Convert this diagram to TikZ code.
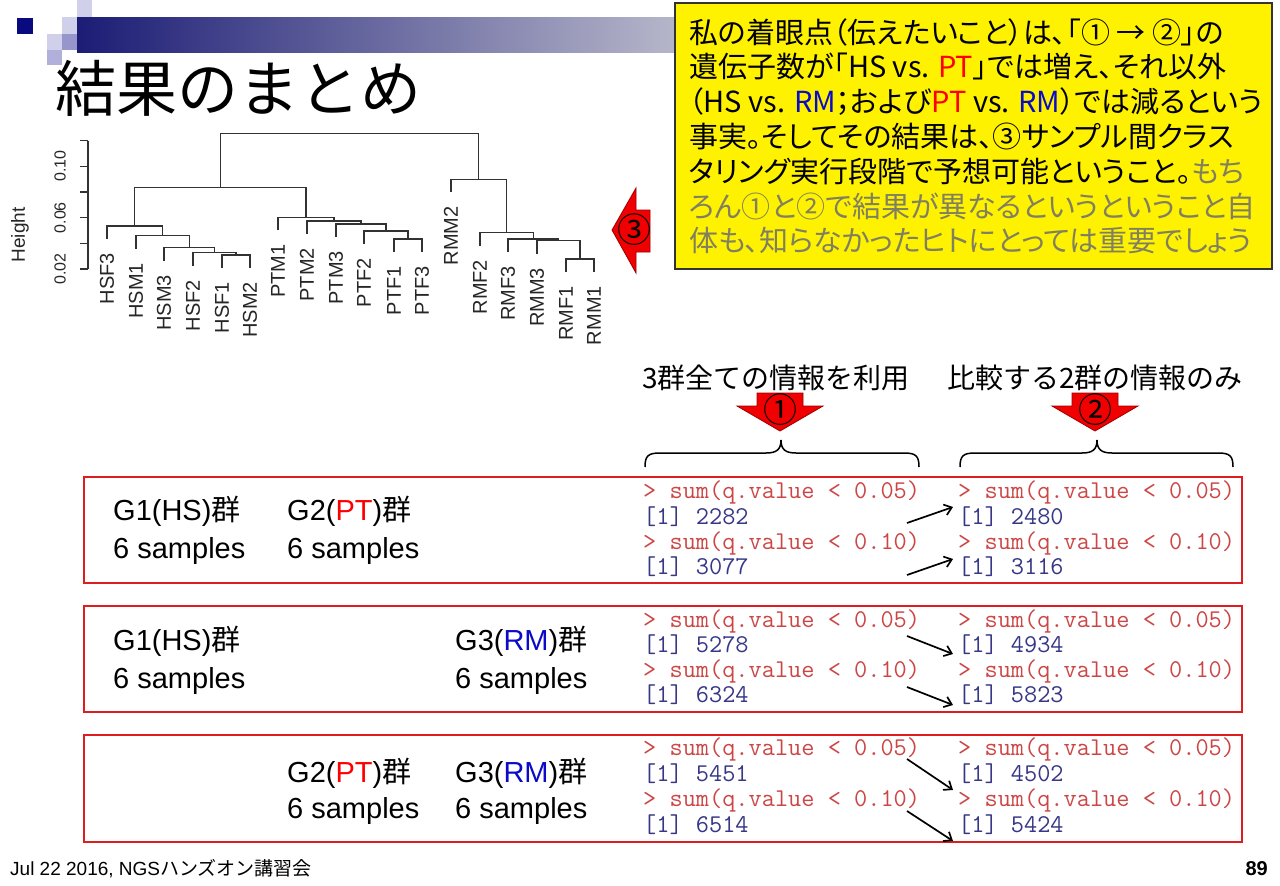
\documentclass[tikz,border=0pt]{standalone}
\usepackage{fontspec}
\setmainfont{Liberation Sans}
\newfontfamily\jp{Noto Sans CJK JP}
\newfontfamily\jpp[RawFeature=+palt]{Noto Sans CJK JP}
\usetikzlibrary{arrows.meta}
\definecolor{navy}{RGB}{10,10,128}
\definecolor{barL}{RGB}{28,28,118}
\definecolor{barR}{RGB}{182,182,202}
\definecolor{sqA}{RGB}{208,208,234}
\definecolor{sqB}{RGB}{176,176,218}
\definecolor{sqC}{RGB}{150,150,205}
\definecolor{dend}{RGB}{50,50,50}
\definecolor{arrowred}{RGB}{240,0,0}
\definecolor{boxred}{RGB}{222,30,30}
\definecolor{ptred}{RGB}{255,0,0}
\definecolor{rmblue}{RGB}{10,10,200}
\definecolor{gtxt}{RGB}{128,128,96}
\definecolor{prompt}{RGB}{205,70,70}
\definecolor{outnum}{RGB}{55,55,135}
\newcommand\fsz[1]{\fontsize{#1}{#1}\selectfont}
\tikzset{
  dendline/.style={draw=dend, line width=1.3pt},
  leaflab/.style={rotate=90, anchor=east, inner sep=0pt, text=black!85, font=\fsz{20}},
  ticklab/.style={rotate=90, anchor=center, inner sep=0pt, text=black!85, font=\fsz{16}},
  bigarrow/.style={fill=arrowred, draw=arrowred!65!black, line width=0.8pt},
  circnum/.style={inner sep=0pt, font=\jp\fsz{34}},
  bracepath/.style={draw=black, line width=1.5pt},
  groupbox/.style={draw=boxred, line width=2.5pt},
  grp/.style={anchor=base west, inner sep=0pt, font=\fsz{29}},
  code/.style={anchor=base west, inner sep=0pt, font=\ttfamily\fsz{25.6}},
  cmd/.style={code, text=prompt},
  res/.style={code, text=outnum},
  chg/.style={draw=black, line width=1.7pt, -{Straight Barb[length=7pt,width=11pt,line width=1.7pt]}},
  note/.style={anchor=base west, inner sep=0pt, font=\jpp\fsz{29}},
  head/.style={anchor=base, inner sep=0pt, font=\jp\fsz{28}},
}
\begin{document}
\begin{tikzpicture}[x=1pt,y=-1pt]
\useasboundingbox (0,0) rectangle (1280,886);
\fill[white] (0,0) rectangle (1280,886);

% title bar and its small squares
\shade[left color=barL, right color=barR] (77,17) rectangle (676,52);
\fill[sqA] (77,0) rectangle (92,17);
\fill[navy] (17,18) rectangle (33,34);
\fill[sqA] (62,17) rectangle (77,34);
\fill[sqA] (47,34) rectangle (62,50);
\fill[sqC] (62,34) rectangle (77,50);
\fill[sqB] (47,50) rectangle (62,65);

\node[anchor=base west, inner sep=0pt, font=\jp\fsz{61}] (title) at (55,111) {結果のまとめ};

% dendrogram: axis
\draw[dendline] (88,140.7) -- (88,269);
\foreach \t in {140.7,166.3,192,217.7,243.3,269} \draw[dendline] (88,\t) -- (80,\t);
\node[ticklab] (t02) at (60,269) {0.02};
\node[ticklab] (t06) at (60,217.7) {0.06};
\node[ticklab] (t10) at (60,166.3) {0.10};
\node[rotate=90, inner sep=0pt, font=\fsz{19}, text=black!85] (ylab) at (20,235) {Height};

% leaves
\foreach \n/\x/\b in {HSF3/107/239, HSM1/136/248.7, HSM3/164/260.7, HSF2/193/265.7,
  HSF1/222/268, HSM2/250/268, PTM1/278/230.3, PTM2/307/234, PTM3/336/237,
  PTF2/364/244, PTF1/394/252, PTF3/422/252, RMM2/451/192.3, RMF2/480/245.7,
  RMF3/508/252, RMM3/537/253.7, RMF1/566/272, RMM1/594/272} {
  \coordinate (\n) at (\x,\b);
  \node[leaflab] (lab\n) at (\x,\b+14) {\n};
}
% merge points
\coordinate (ma) at (236,255);
\coordinate (mb) at (214.5,252.7);
\coordinate (mc) at (189.25,247.7);
\coordinate (md) at (162.6,235.7);
\coordinate (me) at (134.8,226);
\coordinate (mf) at (408,239);
\coordinate (mg) at (386,231);
\coordinate (mh) at (361,224);
\coordinate (mi) at (334,221);
\coordinate (mj) at (306,217.3);
\coordinate (mk) at (220.4,187.3);
\coordinate (ml) at (580,259);
\coordinate (mm) at (558.5,240.7);
\coordinate (mn) at (533.25,239);
\coordinate (mo) at (506.6,232.7);
\coordinate (mp) at (478.8,179.3);
\coordinate (mq) at (349.6,133.3);
\draw[dendline] (HSF1) |- (ma) -| (HSM2);
\draw[dendline] (HSF2) |- (mb) -| (ma);
\draw[dendline] (HSM3) |- (mc) -| (mb);
\draw[dendline] (HSM1) |- (md) -| (mc);
\draw[dendline] (HSF3) |- (me) -| (md);
\draw[dendline] (PTF1) |- (mf) -| (PTF3);
\draw[dendline] (PTF2) |- (mg) -| (mf);
\draw[dendline] (PTM3) |- (mh) -| (mg);
\draw[dendline] (PTM2) |- (mi) -| (mh);
\draw[dendline] (PTM1) |- (mj) -| (mi);
\draw[dendline] (me) |- (mk) -| (mj);
\draw[dendline] (RMF1) |- (ml) -| (RMM1);
\draw[dendline] (RMM3) |- (mm) -| (ml);
\draw[dendline] (RMF3) |- (mn) -| (mm);
\draw[dendline] (RMF2) |- (mo) -| (mn);
\draw[dendline] (RMM2) |- (mp) -| (mo);
\draw[dendline] (mk) |- (mq) -| (mp);

% arrow 3 pointing at the dendrogram
\draw[bigarrow] (612,230) -- (636,188) -- (636,210) -- (650,210) -- (650,252) -- (636,252) -- (636,273) -- cycle;
\node[circnum] (n3) at (634,230) {③};

% note box
\draw[fill=yellow, draw=black!80, line width=1.2pt] (675,3) rectangle (1272,269);
\node[note] (y1) at (689,43) {私の着眼点（伝えたいこと）は、「① → ②」の};
\node[note] (y2) at (689,77.8) {遺伝子数が「HS vs. \textcolor{ptred}{PT}」では増え、それ以外};
\node[note] (y3) at (689,112.6) {（HS vs. \textcolor{rmblue}{RM}；および\textcolor{ptred}{PT} vs. \textcolor{rmblue}{RM}）では減るという};
\node[note] (y4) at (689,147.4) {事実。そしてその結果は、③サンプル間クラス};
\node[note] (y5) at (689,182.2) {タリング実行段階で予想可能ということ。\textcolor{gtxt}{もち}};
\node[note, text=gtxt] (y6) at (689,217) {ろん①と②で結果が異なるというということ自};
\node[note, text=gtxt] (y7) at (689,251.8) {体も、知らなかったヒトにとっては重要でしょう};

% column headings, arrows and braces
\node[head] (h1) at (776,388) {3群全ての情報を利用};
\node[head] (h2) at (1095,388) {比較する2群の情報のみ};
\draw[bigarrow] (757,393) -- (803,393) -- (803,406) -- (823,406) -- (780,431) -- (737,406) -- (757,406) -- cycle;
\node[circnum] (n1) at (780,410) {①};
\draw[bigarrow] (1072,393) -- (1118,393) -- (1118,406) -- (1138,406) -- (1095,431) -- (1052,406) -- (1072,406) -- cycle;
\node[circnum] (n2) at (1095,410) {②};
\draw[bracepath] (645,467) .. controls (645,456) and (648,453) .. (660,453) -- (766,453)
  .. controls (776,453) and (781,450) .. (781,440)
  .. controls (781,450) and (786,453) .. (796,453) -- (904,453)
  .. controls (916,453) and (919,456) .. (919,467);
\draw[bracepath] (960,467) .. controls (960,456) and (963,453) .. (975,453) -- (1082,453)
  .. controls (1092,453) and (1097,450) .. (1097,440)
  .. controls (1097,450) and (1102,453) .. (1112,453) -- (1218,453)
  .. controls (1230,453) and (1233,456) .. (1233,467);

% group boxes
\draw[groupbox] (84,477) rectangle (1242,583);
\draw[groupbox] (84,606) rectangle (1242,712);
\draw[groupbox] (84,735) rectangle (1242,842);

% box 1: HS vs PT
\node[grp] (g1a) at (113,520) {G1(HS){\jp 群}};
\node[grp] (s1a) at (113,558) {6 samples};
\node[grp] (g1b) at (287,520) {G2(\textcolor{ptred}{PT}){\jp 群}};
\node[grp] (s1b) at (287,558) {6 samples};
\node[cmd] (c11) at (643,498) {> sum(q.value < 0.05)};
\node[res] (r11) at (643,524) {[1] 2282};
\node[cmd] (c12) at (643,549) {> sum(q.value < 0.10)};
\node[res] (r12) at (643,574) {[1] 3077};
\node[cmd] (d11) at (958,498) {> sum(q.value < 0.05)};
\node[res] (e11) at (958,524) {[1] 2480};
\node[cmd] (d12) at (958,549) {> sum(q.value < 0.10)};
\node[res] (e12) at (958,574) {[1] 3116};
\coordinate (a1t) at (907,523); \coordinate (a1h) at (953,507);
\coordinate (a2t) at (907,575); \coordinate (a2h) at (953,559);
\draw[chg] (a1t) -- (a1h);
\draw[chg] (a2t) -- (a2h);

% box 2: HS vs RM
\node[grp] (g2a) at (113,650) {G1(HS){\jp 群}};
\node[grp] (s2a) at (113,688) {6 samples};
\node[grp] (g2b) at (455,650) {G3(\textcolor{rmblue}{RM}){\jp 群}};
\node[grp] (s2b) at (455,688) {6 samples};
\node[cmd] (c21) at (643,627) {> sum(q.value < 0.05)};
\node[res] (r21) at (643,652) {[1] 5278};
\node[cmd] (c22) at (643,677) {> sum(q.value < 0.10)};
\node[res] (r22) at (643,702) {[1] 6324};
\node[cmd] (d21) at (958,627) {> sum(q.value < 0.05)};
\node[res] (e21) at (958,652) {[1] 4934};
\node[cmd] (d22) at (958,677) {> sum(q.value < 0.10)};
\node[res] (e22) at (958,702) {[1] 5823};
\coordinate (b1t) at (907,636); \coordinate (b1h) at (953,654);
\coordinate (b2t) at (907,687); \coordinate (b2h) at (953,705);
\draw[chg] (b1t) -- (b1h);
\draw[chg] (b2t) -- (b2h);

% box 3: PT vs RM
\node[grp] (g3a) at (287,782) {G2(\textcolor{ptred}{PT}){\jp 群}};
\node[grp] (s3a) at (287,818) {6 samples};
\node[grp] (g3b) at (455,782) {G3(\textcolor{rmblue}{RM}){\jp 群}};
\node[grp] (s3b) at (455,818) {6 samples};
\node[cmd] (c31) at (643,755) {> sum(q.value < 0.05)};
\node[res] (r31) at (643,781) {[1] 5451};
\node[cmd] (c32) at (643,806) {> sum(q.value < 0.10)};
\node[res] (r32) at (643,832) {[1] 6514};
\node[cmd] (d31) at (958,755) {> sum(q.value < 0.05)};
\node[res] (e31) at (958,781) {[1] 4502};
\node[cmd] (d32) at (958,806) {> sum(q.value < 0.10)};
\node[res] (e32) at (958,832) {[1] 5424};
\coordinate (c1t) at (907,759); \coordinate (c1h) at (953,790);
\coordinate (c2t) at (907,811); \coordinate (c2h) at (953,841);
\draw[chg] (c1t) -- (c1h);
\draw[chg] (c2t) -- (c2h);

% footer
\node[anchor=base west, inner sep=0pt, font=\fsz{19}] (foot) at (10,875) {Jul 22 2016, NGS{\jp ハンズオン講習会}};
\node[anchor=base east, inner sep=0pt, font=\bfseries\fsz{20}] (page) at (1268,875) {89};
\end{tikzpicture}
\end{document}
